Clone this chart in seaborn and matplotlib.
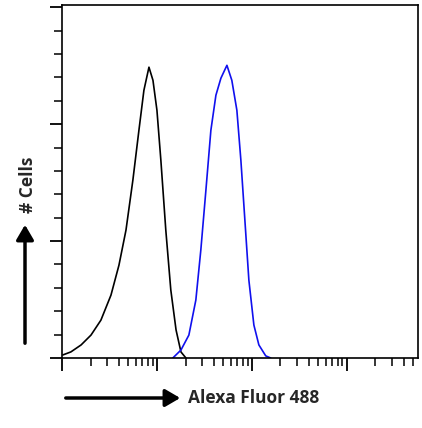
import matplotlib
matplotlib.use("Agg")
import matplotlib.pyplot as plt
import seaborn as sns
import numpy as np
import pandas as pd
from matplotlib.ticker import LogLocator, NullFormatter, MultipleLocator

sns.set_style("white")
plt.rcParams['font.family'] = ['Open Sans', 'DejaVu Sans']

ctrl_x = [1.02, 1.24, 1.59, 2.02, 2.57, 3.28, 3.98, 4.72, 5.58, 6.46, 7.29, 8.24, 9.08, 10.0, 11.0, 12.4, 14.0, 15.9, 17.9, 20.2]
ctrl_y = [0.13, 0.26, 0.56, 0.98, 1.62, 2.69, 3.97, 5.47, 7.61, 9.74, 11.45, 12.44, 11.88, 10.6, 8.46, 5.47, 2.91, 1.2, 0.26, 0.0]
stain_x = [14.7, 17.9, 21.7, 25.7, 29.0, 32.8, 37.0, 41.8, 47.2, 54.6, 61.5, 69.5, 76.6, 84.4, 93.0, 105, 118.5, 140, 158]
stain_y = [0.0, 0.34, 0.98, 2.48, 4.62, 7.18, 9.74, 11.24, 11.97, 12.52, 11.88, 10.6, 8.46, 5.9, 3.33, 1.41, 0.56, 0.09, 0.0]

df_c = pd.DataFrame({"x": ctrl_x, "y": ctrl_y})
df_s = pd.DataFrame({"x": stain_x, "y": stain_y})

fig = plt.figure(figsize=(4.22, 4.28), dpi=100)
ax = fig.add_axes([62/422, 70/428, 356/422, 353/428])
sns.lineplot(data=df_c, x="x", y="y", ax=ax, color="black", lw=1.2, sort=False)
sns.lineplot(data=df_s, x="x", y="y", ax=ax, color="#1010ee", lw=1.2, sort=False)
ax.set_xscale("log")
ax.set_xlim(1, 10**3.75)
ax.set_ylim(0, 15.1)
ax.xaxis.set_major_locator(LogLocator(base=10, numticks=10))
ax.xaxis.set_minor_locator(LogLocator(base=10, subs=np.arange(2, 10), numticks=50))
ax.xaxis.set_major_formatter(NullFormatter())
ax.xaxis.set_minor_formatter(NullFormatter())
ax.yaxis.set_major_locator(MultipleLocator(5))
ax.yaxis.set_minor_locator(MultipleLocator(1))
ax.yaxis.set_major_formatter(NullFormatter())
ax.tick_params(axis="both", which="major", direction="out", length=9, width=1.3, color="black", bottom=True, left=True)
ax.tick_params(axis="both", which="minor", direction="out", length=6, width=1.1, color="black", bottom=True, left=True)
ax.set_xlabel("")
ax.set_ylabel("")
for s in ax.spines.values():
    s.set_color("black")
    s.set_linewidth(1.2)

fig.text(188/422, 1-398/428, "Alexa Fluor 488", fontsize=12.5, fontweight="bold", va="center", ha="left")
fig.text(28/422, 1-185/428, "# Cells", fontsize=12.5, fontweight="bold", va="center", ha="center", rotation=90)
fig.add_artist(matplotlib.patches.FancyArrowPatch((63/422, 1-398/428), (183/422, 1-398/428), transform=fig.transFigure,
               arrowstyle="-|>,head_length=6,head_width=3.5", lw=2.5, color="black", mutation_scale=1.5))
fig.add_artist(matplotlib.patches.FancyArrowPatch((25/422, 1-346/428), (25/422, 1-222/428), transform=fig.transFigure,
               arrowstyle="-|>,head_length=6,head_width=3.5", lw=2.5, color="black", mutation_scale=1.5))
fig.savefig("out.png", dpi=100)
